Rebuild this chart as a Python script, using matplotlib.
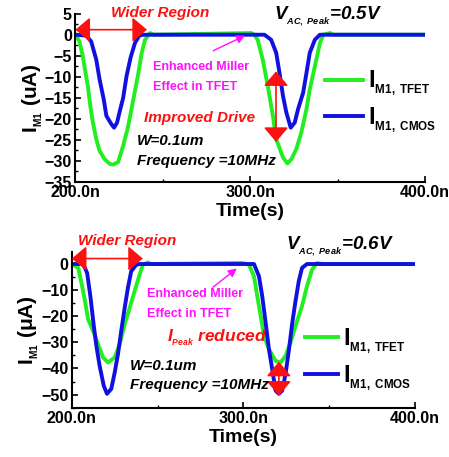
import matplotlib
matplotlib.use("Agg")
import matplotlib.pyplot as plt
from matplotlib.ticker import MultipleLocator

plt.rcParams["font.family"] = ["Liberation Sans", "DejaVu Sans"]
plt.rcParams["font.weight"] = "bold"
plt.rcParams["mathtext.fontset"] = "custom"
plt.rcParams["mathtext.rm"] = "Liberation Sans:bold"
plt.rcParams["mathtext.it"] = "Liberation Sans:bold:italic"
plt.rcParams["mathtext.bf"] = "Liberation Sans:bold"

# ---- data (time in ns, current in uA) ----
# top panel, V_AC,peak = 0.5 V
t_tfet_a = [200, 202.3, 204.2, 205.8, 207.1, 208.5, 210, 211.9, 213.8, 216.7, 219.6, 221.5, 224.4,
            227.3, 230.2, 233.1, 236, 237.9, 239.8, 242.7, 244.6, 300.6, 302.3, 304.2, 307.1,
            310, 312.9, 314.8, 318.7, 321.2, 323.5, 326.3, 329.2, 332.1, 334, 336.9, 339.8,
            341.7, 345.6, 347.5, 400]
i_tfet_a = [0, -1.6, -5.1, -9.1, -12.2, -16.9, -20.9, -24.8, -27.6, -29.6, -30.7, -30.9, -30.3,
            -26.4, -21.7, -15.4, -9.1, -4.3, -1.2, 0.4, 0, 0.4, 0, -1.2, -5.9,
            -12.2, -19.3, -24.8, -29.2, -30.6, -29.6, -27.2, -23.2, -17.7, -13, -7.5, -2,
            0, 0.4, 0, 0]
t_cmos_a = [200, 206.2, 209, 211.9, 213.8, 216.2, 217.7, 220.6, 222.1, 223.8, 225.4, 227.3, 229.2,
            231.5, 234, 236.5, 238.8, 308.1, 311.9, 314.8, 316.7, 318.7, 320.6, 323.1, 325.4,
            327.3, 330.2, 332.1, 334, 336.9, 339.8, 400]
i_cmos_a = [0, -0.2, -1.6, -5.9, -10.6, -15.4, -19.3, -21.3, -22.1, -20.9, -18.1, -15, -9.9,
            -5.5, -2, -0.2, 0, 0, -1.2, -4.3, -9.1, -14.6, -18.5, -22.1, -20.9,
            -17.7, -13.8, -9.1, -4.3, -1.2, 0, 0]

# bottom panel, V_AC,peak = 0.6 V
t_tfet_b = [200, 203.7, 205.6, 207.5, 209.5, 212.4, 215.3, 218.2, 221.1, 225, 227.9, 230.8,
            233.7, 236.6, 239.5, 241.4, 244.3, 246, 299.4, 303.3, 306.2, 308.1, 310.1, 312,
            314.9, 318.8, 321.7, 324.6, 327.5, 330.4, 334.2, 337.1, 340, 342.9, 345.8, 400]
i_tfet_b = [0, -1.5, -7.2, -13.6, -21.2, -25.6, -30.7, -35.8, -37.7, -35.8, -30.7, -23.1,
            -16.8, -10.4, -4.1, -0.3, 0.6, 0, 0.4, -0.3, -4.7, -12.3, -19.9, -27.5,
            -32.6, -37.1, -37.7, -35.2, -30.1, -23.7, -16.1, -8.5, -2.2, 0.4, 0, 0]
t_cmos_b = [200, 206.6, 208.9, 210.8, 212.8, 214.3, 216.2, 218.6, 220.5, 223, 225, 226.9, 228.8,
            230.8, 232.7, 234.6, 237.5, 239.5, 306.2, 309.1, 311, 313, 314.9, 316.8, 318.8,
            320.7, 322.6, 324.6, 326.5, 328.4, 330.4, 332.3, 334.2, 337.1, 400]
i_cmos_b = [0, 0, -3.4, -12.3, -23.7, -31.3, -39, -46.6, -49.7, -47.8, -41.5, -34.5, -25.6,
            -16.8, -9.1, -2.8, -0.3, 0, 0, -4.7, -12.3, -22.5, -32.6, -40.2, -48.5,
            -49.7, -48.5, -42.1, -33.2, -23.1, -14.2, -6.6, -1.5, 0, 0]

xticks = [200, 300, 400]
xticklabels = ["200.0n", "300.0n", "400.0n"]
labels = [r"$\mathrm{I_{{}_{M1,\ TFET}}}$", r"$\mathrm{I_{{}_{M1,\ CMOS}}}$"]

green = "#22ee22"
blue = "#1010e0"
red = "#ff1010"
magenta = "#ff10ff"


def style_axes(ax, ylim, ymajor, yminor):
    ax.set_xlim(200, 400)
    ax.set_ylim(*ylim)
    ax.spines["top"].set_visible(False)
    ax.spines["right"].set_visible(False)
    for s in ("left", "bottom"):
        ax.spines[s].set_linewidth(1.5)
    ax.set_xticks(xticks)
    ax.set_xticklabels(xticklabels)
    ax.xaxis.set_minor_locator(MultipleLocator(50))
    ax.yaxis.set_major_locator(MultipleLocator(ymajor))
    ax.yaxis.set_minor_locator(MultipleLocator(yminor))
    ax.tick_params(which="major", direction="in", length=4, width=1.2, labelsize=11.5, pad=2.5)
    ax.tick_params(which="minor", direction="in", length=2.5, width=1.0)
    for lb in ax.get_xticklabels() + ax.get_yticklabels():
        lb.set_fontweight("bold")
    ax.set_xlabel("Time(s)", fontsize=14, fontweight="bold", labelpad=2)


def darrow(ax, p1, p2, color):
    ax.annotate("", xy=p2, xytext=p1,
                arrowprops=dict(arrowstyle="<|-|>,head_length=0.45,head_width=0.38",
                                color=color, lw=1.2, mutation_scale=20,
                                shrinkA=0, shrinkB=0))


fig = plt.figure(figsize=(4.49, 4.57), dpi=100)

# ---------------- top panel ----------------
ax1 = fig.add_axes([0.168, 0.602, 0.779, 0.368])
ax1.plot(t_tfet_a, i_tfet_a, color=green, lw=2.8, label=labels[0])
ax1.plot(t_cmos_a, i_cmos_a, color=blue, lw=2.8, label=labels[1])
style_axes(ax1, (-35, 5), 5, 2.5)
ax1.set_ylabel(r"$\mathrm{I_{{}_{M1}}}$ (uA)", fontsize=15, fontweight="bold", labelpad=0)

darrow(ax1, (200, 1.2), (240.9, 1.2), red)
ax1.text(248.4, 5.2, "Wider Region", color=red, fontsize=11, style="italic",
         fontweight="bold", ha="center", va="center")
ax1.text(313.5, 3.6, r"$\mathit{V_{{}_{AC,\ Peak}}}$=0.5V", fontsize=13.5, style="italic",
         fontweight="bold", ha="left", va="baseline")
ax1.annotate("", xy=(297, -0.2), xytext=(278.8, -3.8),
             arrowprops=dict(arrowstyle="-|>,head_length=0.5,head_width=0.25",
                             color=magenta, lw=1.0, mutation_scale=10, shrinkA=0, shrinkB=0))
ax1.text(244.4, -7.6, "Enhanced Miller", color=magenta, fontsize=9, fontweight="bold",
         ha="left", va="center")
ax1.text(244.4, -12.4, "Effect in TFET", color=magenta, fontsize=9, fontweight="bold",
         ha="left", va="center")
darrow(ax1, (314.7, -8.7), (314.7, -25.5), red)
ax1.text(239.2, -19.8, "Improved Drive", color=red, fontsize=11, style="italic",
         fontweight="bold", ha="left", va="center")
ax1.text(235.2, -25.2, "W=0.1um", fontsize=11, style="italic", fontweight="bold",
         ha="left", va="center")
ax1.text(235.2, -30.0, "Frequency =10MHz", fontsize=11, style="italic", fontweight="bold",
         ha="left", va="center")
ax1.legend(loc="center left", bbox_to_anchor=(0.714, 0.475), frameon=False, fontsize=17,
           handlelength=1.6, handletextpad=0.2, labelspacing=0.3, borderpad=0,
           borderaxespad=0)

# ---------------- bottom panel ----------------
ax2 = fig.add_axes([0.160, 0.108, 0.764, 0.340])
ax2.plot(t_tfet_b, i_tfet_b, color=green, lw=2.8, label=labels[0])
ax2.plot(t_cmos_b, i_cmos_b, color=blue, lw=2.8, label=labels[1])
style_axes(ax2, (-55, 4.5), 10, 5)
ax2.set_ylabel(r"$\mathrm{I_{{}_{M1}}}$ ($\mathrm{\mu}$A)", fontsize=15, fontweight="bold",
               labelpad=0)

darrow(ax2, (200, 2.1), (241.4, 2.1), red)
ax2.text(232, 8.9, "Wider Region", color=red, fontsize=11, style="italic",
         fontweight="bold", ha="center", va="center")
ax2.text(325, 5.5, r"$\mathit{V_{{}_{AC,\ Peak}}}$=0.6V", fontsize=13.5, style="italic",
         fontweight="bold", ha="left", va="baseline")
ax2.annotate("", xy=(296.2, -1.7), xytext=(282.2, -8.9),
             arrowprops=dict(arrowstyle="-|>,head_length=0.5,head_width=0.25",
                             color=magenta, lw=1.0, mutation_scale=10, shrinkA=0, shrinkB=0))
ax2.text(243.7, -11.6, "Enhanced Miller", color=magenta, fontsize=9, fontweight="bold",
         ha="left", va="center")
ax2.text(243.7, -19.1, "Effect in TFET", color=magenta, fontsize=9, fontweight="bold",
         ha="left", va="center")
ax2.text(255.4, -28.2, r"$\mathit{I_{{}_{Peak}}}$ reduced", color=red, fontsize=12.5,
         style="italic", fontweight="bold", ha="left", va="center")
darrow(ax2, (320.7, -37.4), (320.7, -50.4), red)
ax2.text(233.8, -39.2, "W=0.1um", fontsize=11, style="italic", fontweight="bold",
         ha="left", va="center")
ax2.text(233.8, -46.4, "Frequency =10MHz", fontsize=11, style="italic", fontweight="bold",
         ha="left", va="center")
ax2.legend(loc="center left", bbox_to_anchor=(0.679, 0.31), frameon=False, fontsize=17,
           handlelength=1.4, handletextpad=0.2, labelspacing=0.3, borderpad=0,
           borderaxespad=0)

fig.savefig("out.png", dpi=100)
